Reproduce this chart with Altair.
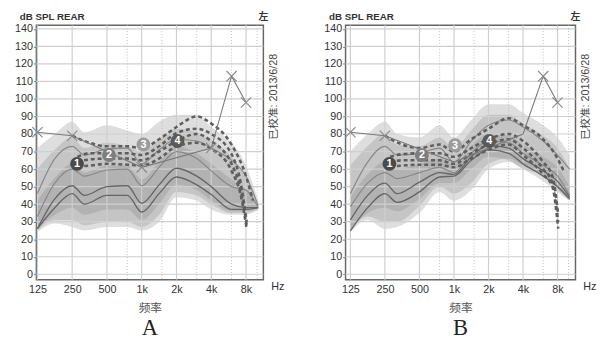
import altair as alt
import pandas as pd

# ---------------- shared values ----------------
FREQ_LABELS = ["125", "250", "500", "1k", "2k", "4k", "8k"]
OCT = [0, 1, 2, 3, 4, 5, 6]                 # octaves above 125 Hz
DOTTED = [2.585, 3.585, 4.585, 5.585, 6.32]  # 750, 1.5k, 3k, 6k, 10k
DB = list(range(0, 141, 10))

T = [0, 0.5, 1, 1.35, 2, 2.585, 3, 3.5, 4, 4.585, 5, 5.585, 6, 6.35]
TD = [1.15, 1.5, 2, 2.585, 3, 3.5, 4, 4.585, 5, 5.585, 5.85, 6.02]
TD4 = [1.0, 1.5, 2, 2.585, 3, 3.5, 4, 4.585, 5, 5.585, 6.0, 6.2]
MARK_LABELS = ["1", "2", "3", "4"]

# ---------------- panel A ----------------
A_band1_hi = [72, 80, 87, 81, 85, 82, 80, 87, 91, 91, 84, 75, 62, 42]
A_band1_lo = [24, 29, 27, 25, 27, 27, 25, 30, 44, 42, 37, 34, 34, 37]
A_band2_hi = [60, 71, 78, 72, 75, 73, 70, 77, 83, 81, 76, 67, 55, 40]
A_band2_lo = [25, 31, 31, 28, 30, 30, 27, 34, 47, 45, 40, 35, 35, 37]
A_band3_hi = [42, 55, 63, 58, 62, 62, 54, 64, 73, 69, 63, 54, 48, 39]
A_band3_lo = [26, 34, 38, 34, 37, 37, 31, 40, 51, 48, 42, 36, 36, 38]
A_L1 = [26, 38, 46, 40, 45, 45, 35.5, 46, 55.5, 51, 45.5, 37, 37, 38]
A_L2 = [26, 43, 50.5, 45, 50, 50.5, 40.5, 51, 60.5, 56, 50, 40, 38, 38]
A_G2 = [33, 52, 60, 56, 59.5, 60, 50.5, 61, 70, 66, 59, 50, 48, 38]
A_G1 = [46, 66, 73, 68, 71.5, 72, 63, 71, 77, 76, 72, 65, 56, 39]
A_D1 = [61.5, 62, 63, 62.5, 62, 66, 73, 75, 71.5, 59, 45, 26]
A_D2 = [64, 65.5, 66, 66, 65, 70, 76, 80, 76, 63, 48, 28]
A_D3 = [67, 69, 69, 69, 68, 73, 80.5, 83, 80, 68.5, 52, 30]
A_D4 = [79, 75, 73, 73, 72, 77, 84, 90, 86, 74, 56, 42]
A_X_t = [0, 1, 3, 5, 5.585, 6]
A_X_y = [81, 79, 61, 72, 113, 98]
A_X_show = [0, 1, 3, 5, 5.585, 6]
A_M_t = [1.14, 2.06, 3.05, 4.03]
A_M_y = [63, 68, 74, 76]

# ---------------- panel B ----------------
B_band1_hi = [70, 80, 87, 80, 78, 85, 78, 88, 97, 97, 92, 85, 78, 68]
B_band1_lo = [24, 31, 26, 27, 35, 47, 42, 48, 60, 64, 60, 56, 48, 42]
B_band2_hi = [62, 73, 80, 74, 73, 78, 72, 82, 91, 91, 86, 79, 72, 60]
B_band2_lo = [25, 33, 30, 30, 39, 50, 46, 52, 63, 66, 62, 57, 49, 42]
B_band3_hi = [44, 57, 64, 60, 63, 66, 63, 73, 80, 79, 74, 67, 61, 50]
B_band3_lo = [26, 35, 38, 36, 43, 52, 52, 60, 67, 65, 60, 53, 47, 42]
B_L1 = [24.7, 38, 46, 41, 47, 55.5, 56, 65, 71, 69, 63, 56, 50, 43]
B_L2 = [31, 45, 52, 46, 52.5, 58, 57, 67, 73.5, 72, 66, 59, 53, 44]
B_G2 = [38.6, 52, 58, 54.6, 58, 61, 58, 69, 76, 75, 69, 62, 56, 45]
B_G1 = [46, 64, 73, 68, 69, 72, 64, 76, 85, 88, 84, 76, 68, 60]
B_D1 = [61.5, 62, 62.5, 62.5, 61, 66, 71, 74, 68, 57, 50, 26]
B_D2 = [64, 65, 65, 65, 63, 69, 74, 77, 72, 60, 52, 30]
B_D3 = [67, 68.5, 69, 69, 67, 72, 77, 80, 76, 64, 56, 34]
B_D4 = [79, 74, 72, 74, 70, 77, 83, 89, 85, 77, 66, 58]
B_X_t = [0, 1, 3, 5, 5.585, 6]
B_X_y = [81, 79, 64, 80, 113, 98]
B_X_show = [0, 1, 5.585, 6]
B_M_t = [1.13, 2.07, 3.03, 4.02]
B_M_y = [63, 68, 73.6, 76]

FONT = "Liberation Sans, Noto Sans CJK SC"
H = 260
YDOM = [-3.1, 142.0]


def make_panel(W, xdom, bands, solid_dark, solid_thin, dashed, xt, xy, xshow,
               mt, my, mcolors, letter):
    lab_expr = "[" + ",".join("'%s'" % s for s in FREQ_LABELS) + "][datum.value]"
    xscale = alt.Scale(domain=xdom, nice=False, zero=False)
    yscale = alt.Scale(domain=YDOM, nice=False, zero=False)
    xaxis = alt.Axis(values=OCT, labelExpr=lab_expr, grid=False, domain=False,
                     ticks=False, labelFontSize=11, labelFont=FONT,
                     labelColor="#333", labelPadding=4, labelFlush=False,
                     labelOverlap=False, title="频率", titleFont=FONT,
                     titleFontSize=12, titleFontWeight="normal",
                     titleColor="#555", titlePadding=9)
    yaxis = alt.Axis(values=DB, grid=False, domain=False, tickSize=3,
                     tickColor="#777", labelFontSize=11, labelFont=FONT,
                     labelColor="#333", labelPadding=1, title=None)

    def X(f="t"):
        return alt.X(f + ":Q", scale=xscale, axis=xaxis)

    def Y(f="y"):
        return alt.Y(f + ":Q", scale=yscale, axis=yaxis)

    # bands
    rows = []
    for i, (lo, hi) in enumerate(bands):
        for t, a, b in zip(T, lo, hi):
            rows.append({"t": t, "y": a, "y2": b, "band": i})
    band_df = pd.DataFrame(rows)
    band_layer = alt.Chart(band_df).mark_area(
        color="#7a7a7a", opacity=0.25, interpolate="monotone"
    ).encode(x=X(), y=Y(), y2="y2:Q", detail="band:N")

    # gridlines
    hgrid = alt.Chart(pd.DataFrame({"y": DB})).mark_rule(
        color="#cfcfcf", strokeWidth=1.2).encode(y=Y())
    vgrid = alt.Chart(pd.DataFrame({"t": OCT})).mark_rule(
        color="#cfcfcf", strokeWidth=1.2).encode(x=X())
    vdot = alt.Chart(pd.DataFrame({"t": DOTTED})).mark_rule(
        color="#bdbdbd", strokeWidth=1, strokeDash=[1, 2]).encode(x=X())

    def line_df(series):
        r = []
        for name, (ts, ys) in series.items():
            for t, y in zip(ts, ys):
                r.append({"t": t, "y": y, "s": name})
        return pd.DataFrame(r)

    thin = alt.Chart(line_df(solid_thin)).mark_line(
        color="#888888", strokeWidth=1.2, interpolate="monotone"
    ).encode(x=X(), y=Y(), detail="s:N")
    dark = alt.Chart(line_df(solid_dark)).mark_line(
        color="#666666", strokeWidth=1.4, interpolate="monotone"
    ).encode(x=X(), y=Y(), detail="s:N")
    dash = alt.Chart(line_df(dashed)).mark_line(
        color="#5e5e5e", strokeWidth=2.6, strokeDash=[4, 3],
        interpolate="monotone"
    ).encode(x=X(), y=Y(), detail="s:N")

    xdf = pd.DataFrame({"t": xt, "y": xy})
    xline = alt.Chart(xdf).mark_line(color="#7a7a7a", strokeWidth=1.1).encode(
        x=X(), y=Y())
    xpts = alt.Chart(xdf[xdf["t"].isin(xshow)]).mark_point(
        shape="M-1,-1L1,1M-1,1L1,-1", filled=False, size=110, color="#8a8a8a",
        strokeWidth=1.2, opacity=1).encode(x=X(), y=Y())

    mdf = pd.DataFrame({"t": mt, "y": my, "m": MARK_LABELS})
    circ = alt.Chart(mdf).mark_circle(size=200, opacity=1).encode(
        x=X(), y=Y(),
        color=alt.Color("m:N", scale=alt.Scale(domain=MARK_LABELS,
                                               range=mcolors), legend=None))
    ctext = alt.Chart(mdf).mark_text(
        color="white", fontSize=11, fontWeight="bold", font=FONT,
        baseline="middle", align="center", dy=0.5
    ).encode(x=X(), y=Y(), text="m:N")

    one = pd.DataFrame({"k": [0]})
    title_t = alt.Chart(one).mark_text(
        text="dB SPL REAR", fontSize=10, fontWeight="bold", font=FONT,
        color="#333", align="left", baseline="middle"
    ).encode(x=alt.value(-17), y=alt.value(-8))
    side_t = alt.Chart(one).mark_text(
        text="左", fontSize=10, font=FONT, color="#333", align="right",
        baseline="middle", fontWeight="bold"
    ).encode(x=alt.value(W + 5), y=alt.value(-8))
    date_t = alt.Chart(one).mark_text(
        text="已校准: 2013/6/28", fontSize=11, font=FONT, color="#444",
        align="center", baseline="middle", angle=270
    ).encode(x=alt.value(W + 11), y=alt.value(73))
    hz_t = alt.Chart(one).mark_text(
        text="Hz", fontSize=11, font=FONT, color="#333", align="left",
        baseline="middle"
    ).encode(x=alt.value(W + 8), y=alt.value(H + 8))
    letter_t = alt.Chart(one).mark_text(
        text=letter, fontSize=23, font="Liberation Serif", color="#222",
        align="center", baseline="middle"
    ).encode(x=alt.value(W / 2), y=alt.value(H + 49))

    return alt.layer(
        band_layer, hgrid, vgrid, vdot, thin, dark, dash, xline, xpts,
        circ, ctext, title_t, side_t, date_t, hz_t, letter_t
    ).properties(width=W, height=H)


panel_a = make_panel(
    232, [-0.03, 6.5],
    [(A_band1_lo, A_band1_hi), (A_band2_lo, A_band2_hi), (A_band3_lo, A_band3_hi)],
    {"L1": (T, A_L1), "L2": (T, A_L2)},
    {"G1": (T, A_G1), "G2": (T, A_G2)},
    {"D1": (TD, A_D1), "D2": (TD, A_D2), "D3": (TD, A_D3), "D4": (TD4, A_D4)},
    A_X_t, A_X_y, A_X_show, A_M_t, A_M_y,
    ["#4a4a4a", "#7e7e7e", "#9c9c9c", "#5a5a5a"], "A")

panel_b = make_panel(
    235, [-0.14, 6.52],
    [(B_band1_lo, B_band1_hi), (B_band2_lo, B_band2_hi), (B_band3_lo, B_band3_hi)],
    {"L1": (T, B_L1), "L2": (T, B_L2)},
    {"G1": (T, B_G1), "G2": (T, B_G2)},
    {"D1": (TD, B_D1), "D2": (TD, B_D2), "D3": (TD, B_D3), "D4": (TD4, B_D4)},
    B_X_t, B_X_y, B_X_show, B_M_t, B_M_y,
    ["#4a4a4a", "#8a8a8a", "#a2a2a2", "#626262"], "B")

chart = alt.hconcat(panel_a, panel_b, spacing=37).properties(
    padding={"left": 5, "top": 0, "right": 0, "bottom": 0}
).configure_view(stroke="#666666", strokeWidth=1.5)

chart.save("out.html", embed_options={"renderer": "svg", "actions": False})
